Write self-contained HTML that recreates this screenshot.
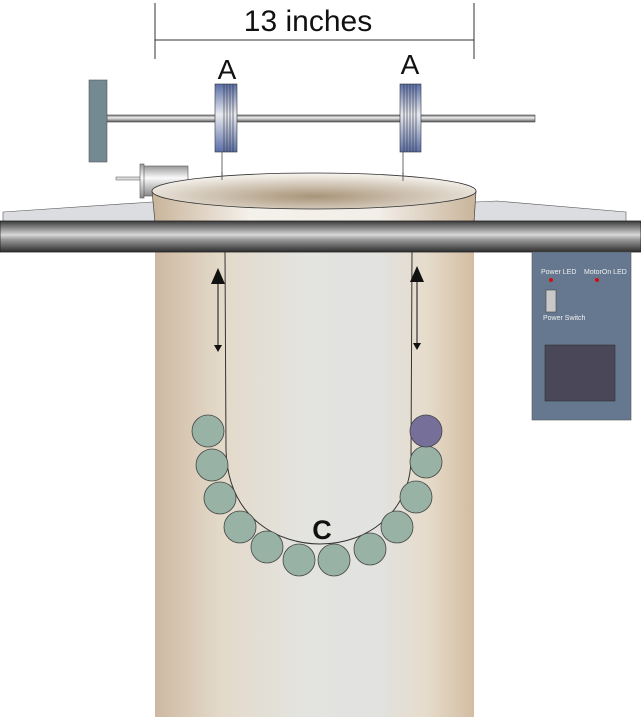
<!DOCTYPE html>
<html><head><meta charset="utf-8"><style>html,body{margin:0;padding:0;background:#fff;}svg{display:block;}</style></head>
<body>
<svg width="641" height="717" viewBox="0 0 641 717" xmlns="http://www.w3.org/2000/svg" font-family="Liberation Sans, sans-serif">
<defs>
<linearGradient id="col" x1="0" x2="1" y1="0" y2="0">
<stop offset="0" stop-color="#cdb9a2"/><stop offset="0.2" stop-color="#e3d9c8"/><stop offset="0.45" stop-color="#e3e3df"/><stop offset="0.7" stop-color="#e2e2e0"/><stop offset="0.85" stop-color="#e6dccb"/><stop offset="1" stop-color="#d3bda2"/>
</linearGradient>
<linearGradient id="bar" x1="0" x2="0" y1="0" y2="1">
<stop offset="0" stop-color="#3a3a3a"/><stop offset="0.45" stop-color="#d8d8d8"/><stop offset="0.6" stop-color="#9a9a9a"/><stop offset="1" stop-color="#2e2e2e"/>
</linearGradient>
<linearGradient id="rod" x1="0" x2="0" y1="0" y2="1">
<stop offset="0" stop-color="#777"/><stop offset="0.4" stop-color="#eee"/><stop offset="1" stop-color="#555"/>
</linearGradient>
<linearGradient id="spool" x1="0" x2="0" y1="0" y2="1">
<stop offset="0" stop-color="#5a6ea8"/><stop offset="0.45" stop-color="#e8eaf0"/><stop offset="1" stop-color="#5a6ea8"/>
</linearGradient>
<linearGradient id="bkt" x1="0" x2="1" y1="0" y2="0">
<stop offset="0" stop-color="#c9b49a"/><stop offset="0.3" stop-color="#f4f0ea"/><stop offset="0.7" stop-color="#f2eee8"/><stop offset="1" stop-color="#c9b49a"/>
</linearGradient>
<radialGradient id="inner" cx="0.5" cy="0.65" r="0.6">
<stop offset="0" stop-color="#a89478"/><stop offset="1" stop-color="#f3efe9"/>
</radialGradient>
<linearGradient id="mot" x1="0" x2="0" y1="0" y2="1">
<stop offset="0" stop-color="#999"/><stop offset="0.4" stop-color="#fafafa"/><stop offset="1" stop-color="#888"/>
</linearGradient>
</defs>

<!-- dimension -->
<line x1="155" y1="3" x2="155" y2="59" stroke="#333" stroke-width="1"/>
<line x1="474" y1="3" x2="474" y2="59" stroke="#333" stroke-width="1"/>
<line x1="155" y1="40" x2="474" y2="40" stroke="#333" stroke-width="1"/>
<text x="308" y="31" font-size="30" text-anchor="middle" fill="#111">13 inches</text>
<text x="227" y="79" font-size="28" text-anchor="middle" fill="#111">A</text>
<text x="410" y="74" font-size="28" text-anchor="middle" fill="#111">A</text>

<!-- rod and T -->
<rect x="107" y="115" width="428" height="7" fill="url(#rod)" stroke="#444" stroke-width="0.6"/>
<rect x="89" y="80" width="18" height="82" fill="#748a92" stroke="#555" stroke-width="0.6"/>
<!-- spools -->
<g stroke="#333" stroke-width="0.6">
<rect x="215" y="84" width="22" height="68" fill="url(#spool)"/>
<line x1="224" y1="84" x2="224" y2="152"/><line x1="227" y1="84" x2="227" y2="152"/><line x1="230" y1="84" x2="230" y2="152"/><line x1="233" y1="84" x2="233" y2="152"/>
<rect x="400" y="84" width="21" height="68" fill="url(#spool)"/>
<line x1="404" y1="84" x2="404" y2="152"/><line x1="407" y1="84" x2="407" y2="152"/><line x1="410" y1="84" x2="410" y2="152"/><line x1="413" y1="84" x2="413" y2="152"/><line x1="416" y1="84" x2="416" y2="152"/>
</g>
<line x1="222" y1="152" x2="222" y2="180" stroke="#444" stroke-width="0.8"/>
<line x1="403" y1="152" x2="403" y2="181" stroke="#444" stroke-width="0.8"/>

<!-- motor -->
<rect x="116" y="177" width="26" height="3" fill="#ddd" stroke="#555" stroke-width="0.5"/>
<rect x="142" y="166" width="46" height="30" fill="url(#mot)" stroke="#555" stroke-width="0.6"/>
<rect x="140" y="164" width="4" height="34" fill="url(#mot)" stroke="#555" stroke-width="0.6"/>

<!-- table plate -->
<polygon points="3,212 152,202 476,202 497,201 626,212 626,222 3,222" fill="#dcdde0" stroke="#555" stroke-width="0.6"/>

<!-- column -->
<rect x="155" y="251" width="319" height="466" fill="url(#col)"/>

<!-- bucket -->
<path d="M152,191 L155,222 L474,222 L476,191 Z" fill="url(#bkt)" stroke="#444" stroke-width="0.7"/>
<ellipse cx="314" cy="191" rx="162" ry="18" fill="url(#inner)" stroke="#333" stroke-width="0.8"/>
<line x1="222" y1="172" x2="222" y2="180" stroke="#444" stroke-width="0.8"/>
<line x1="403" y1="172" x2="403" y2="181" stroke="#444" stroke-width="0.8"/>

<!-- bar -->
<rect x="0" y="221" width="641" height="31" fill="url(#bar)" stroke="#222" stroke-width="0.8"/>

<!-- string -->
<path d="M225,252 L226,450 C228,520 280,544 320,544 C370,544 410,510 411,460 L412,252" fill="none" stroke="#333" stroke-width="1"/>

<!-- arrows -->
<g fill="#111" stroke="#111">
<line x1="218" y1="280" x2="218" y2="345" stroke-width="1"/>
<polygon points="218,268 211,284 225,284" stroke="none"/>
<polygon points="218,352 214,345 222,345" stroke="none"/>
<line x1="417" y1="280" x2="417" y2="343" stroke-width="1"/>
<polygon points="417,266 410,282 424,282" stroke="none"/>
<polygon points="417,350 413,343 421,343" stroke="none"/>
</g>

<!-- balls -->
<g stroke="#444" stroke-width="0.8" fill="#98b2a5">
<circle cx="208" cy="431" r="16"/>
<circle cx="212" cy="465" r="16"/>
<circle cx="220" cy="498" r="16"/>
<circle cx="240" cy="527" r="16"/>
<circle cx="267" cy="547" r="16"/>
<circle cx="299" cy="560" r="16"/>
<circle cx="334" cy="560" r="16"/>
<circle cx="370" cy="549" r="16"/>
<circle cx="397" cy="527" r="16"/>
<circle cx="416" cy="497" r="16"/>
<circle cx="426" cy="462" r="16"/>
<circle cx="426" cy="431" r="16" fill="#756f9a"/>
</g>
<text x="322" y="539" font-size="27" font-weight="bold" text-anchor="middle" fill="#111">C</text>

<!-- control box -->
<rect x="532" y="252" width="99" height="168" fill="#66788f" stroke="#555" stroke-width="0.6"/>
<text x="541" y="274" font-size="7" fill="#f0f0f0">Power LED</text>
<text x="584" y="274" font-size="7" fill="#f0f0f0">MotorOn LED</text>
<circle cx="551" cy="280" r="2" fill="#d01010"/>
<circle cx="597" cy="280" r="2" fill="#d01010"/>
<rect x="546" y="290" width="10" height="22" fill="#c8c8c8" stroke="#444" stroke-width="0.6"/>
<text x="543" y="320" font-size="7" fill="#f0f0f0">Power Switch</text>
<rect x="545" y="345" width="70" height="56" fill="#4a4758" stroke="#333" stroke-width="0.6"/>
</svg>
</body></html>
